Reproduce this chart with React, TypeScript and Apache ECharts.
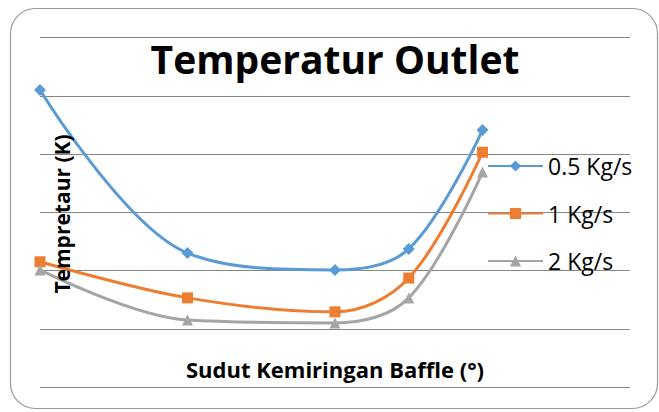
import React, { useEffect, useRef } from "react";
import * as echarts from "echarts";

const angles = [0, 30, 60, 75, 90];
const seriesNames = ["0.5 Kg/s", "1 Kg/s", "2 Kg/s"];
const flow05 = [305.1, 302.3, 302.01, 302.37, 304.41];
const flow1 = [302.15, 301.53, 301.29, 301.87, 304.03];
const flow2 = [302.01, 301.15, 301.1, 301.53, 303.69];
const colors = ["#5B9BD5", "#ED7D31", "#A5A5A5"];
const symbols = ["diamond", "rect", "triangle"];
const symbolSizes = [12, 11, 11];

const FONT = "'Open Sans', 'Noto Sans', sans-serif";

export default function App() {
  const ref = useRef<HTMLDivElement>(null);
  useEffect(() => {
    if (!ref.current) return;
    const chart = echarts.init(ref.current, undefined, { renderer: "svg" });
    const datasets = [flow05, flow1, flow2];
    chart.setOption({
      animation: false,
      backgroundColor: "#ffffff",
      grid: { left: 40, right: 29, top: 37.5, bottom: 25 },
      xAxis: {
        type: "value",
        min: 0,
        max: 120,
        show: true,
        axisLine: { show: false },
        axisTick: { show: false },
        axisLabel: { show: false },
        splitLine: { show: false },
      },
      yAxis: {
        type: "value",
        min: 300,
        max: 306,
        interval: 1,
        axisLine: { show: false },
        axisTick: { show: false },
        axisLabel: { show: false },
        splitLine: { show: true, lineStyle: { color: "#868686", width: 1 } },
      },
      legend: {
        orient: "vertical",
        left: 487,
        top: 154,
        padding: 0,
        itemWidth: 55,
        itemHeight: 14,
        itemGap: 23.5,
        textStyle: { fontFamily: FONT, fontSize: 23, color: "#000", lineHeight: 24 },
        data: seriesNames,
      },
      series: datasets.map((d, i) => ({
        name: seriesNames[i],
        type: "line",
        data: angles.map((a, j) => [a, d[j]]),
        smooth: 0.35,
        symbol: symbols[i],
        symbolSize: symbolSizes[i],
        showAllSymbol: true,
        lineStyle: { color: colors[i], width: 3 },
        itemStyle: { color: colors[i] },
      })),
      graphic: [
        {
          type: "rect",
          shape: { x: 10.5, y: 8.5, width: 647, height: 400, r: 25 },
          style: { fill: "none", stroke: "#9a9a9a", lineWidth: 1.2 },
          z: 10,
        },
        {
          type: "text",
          style: {
            text: "Temperatur Outlet",
            x: 335,
            y: 58,
            align: "center",
            verticalAlign: "middle",
            font: `bold 39px ${FONT}`,
            fill: "#000",
          },
          z: 10,
        },
        {
          type: "text",
          x: 62,
          y: 214,
          rotation: Math.PI / 2,
          style: {
            text: "Tempretaur (K)",
            x: 0,
            y: 0,
            align: "center",
            verticalAlign: "middle",
            font: `bold 21px ${FONT}`,
            fill: "#000",
          },
          z: 10,
        },
        {
          type: "text",
          style: {
            text: "Sudut Kemiringan Baffle (°)",
            x: 335,
            y: 369,
            align: "center",
            verticalAlign: "middle",
            font: `bold 22px ${FONT}`,
            fill: "#000",
          },
          z: 10,
        },
      ],
    });
    return () => chart.dispose();
  }, []);
  return (
    <div
      ref={ref}
      style={{ position: "absolute", left: 0, top: 0, width: 659, height: 412 }}
    />
  );
}
